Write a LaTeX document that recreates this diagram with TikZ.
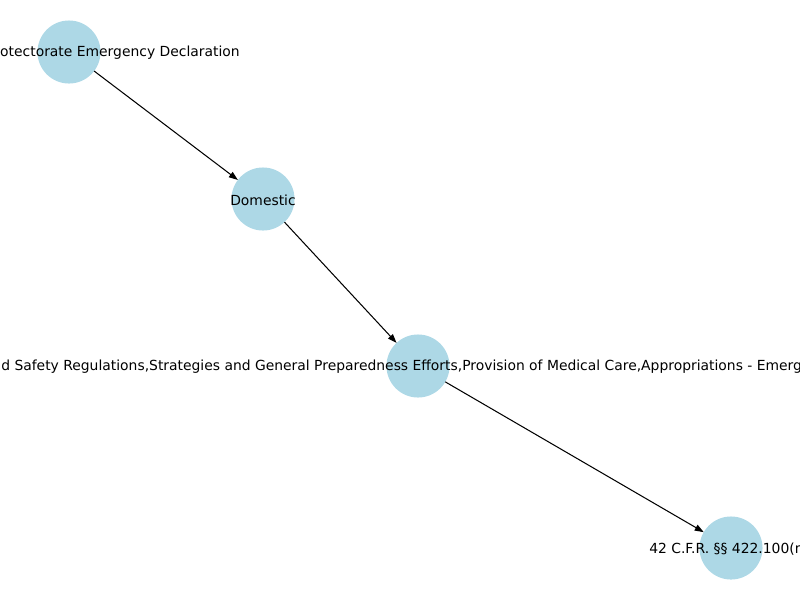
\documentclass[tikz,border=0pt]{standalone}
\usepackage{fontspec}
\setmainfont{DejaVu Sans}
\usepackage{xcolor}
\usetikzlibrary{arrows.meta}
\definecolor{stateBlue}{HTML}{ADD8E6}

\begin{document}
\begin{tikzpicture}[x=0.72pt, y=-0.72pt]
    \tikzstyle{state} = [circle, fill=stateBlue, minimum size=45.4pt, inner sep=0pt, outer sep=0pt]
    \tikzstyle{tag} = [font=\fontsize{10}{12}\selectfont, inner sep=0pt, text=black]
    \tikzstyle{link} = [-{Triangle[length=6.5pt, width=4.6pt]}, black, line width=0.75pt]

    \useasboundingbox (0,0) rectangle (800,600);
    \clip (0,0) rectangle (800,600);

    % circles
    \node[state] (declaration) at (69,52) {};
    \node[state] (domestic) at (263,199) {};
    \node[state] (efforts) at (418,366) {};
    \node[state] (cfr) at (731,548) {};

    % edges
    \draw[link] (declaration) -- (domestic);
    \draw[link] (domestic) -- (efforts);
    \draw[link] (efforts) -- (cfr);

    % labels (cut off at the border)
    \node[tag, anchor=east] (declaration-tag) at (240,53) {otectorate Emergency Declaration};
    \node[tag] (domestic-tag) at (263,200) {Domestic};
    \node[tag, anchor=west] (efforts-tag) at (1,367) {d Safety Regulations,Strategies and General Preparedness Efforts,Provision of Medical Care,Appropriations - Emerg};
    \node[tag, anchor=west] (cfr-tag) at (649,549) {42 C.F.R. §§ 422.100(m};
\end{tikzpicture}
\end{document}
